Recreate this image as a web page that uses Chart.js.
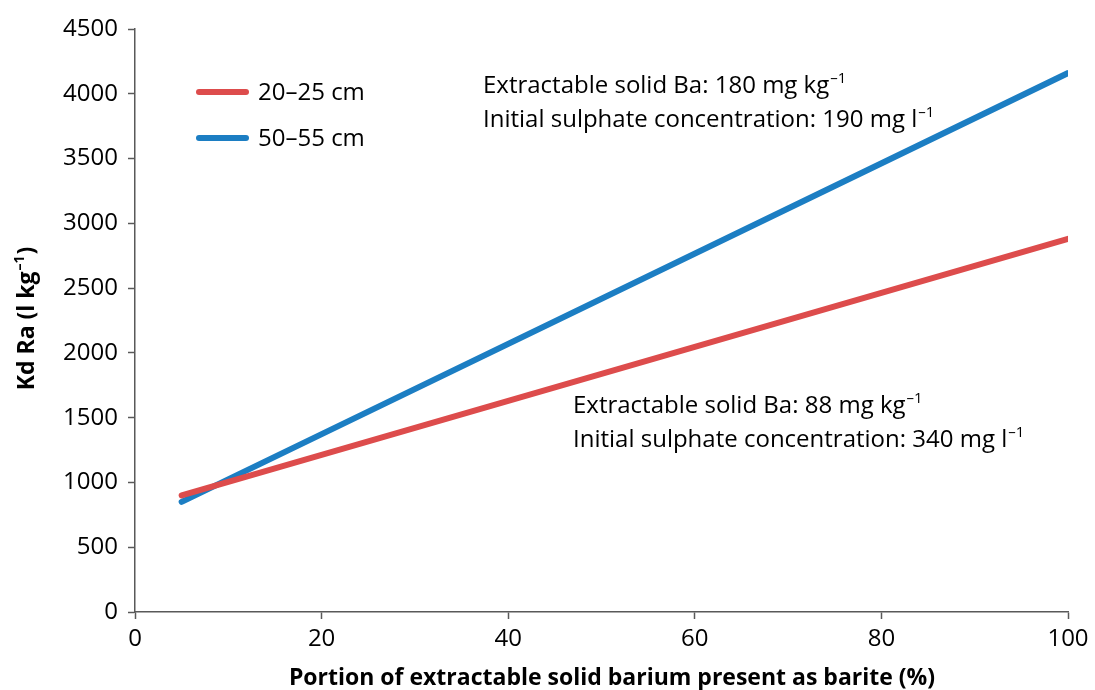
<!DOCTYPE html>
<html>
<head>
<meta charset="utf-8">
<script src="https://cdn.jsdelivr.net/npm/chart.js@4/dist/chart.umd.min.js"></script>
<style>
  html, body { margin: 0; padding: 0; background: #fff; }
  #wrap { width: 1095px; height: 690px; }
</style>
</head>
<body>
<div id="wrap"><canvas id="c" width="1095" height="690"></canvas></div>
<script>
// Portion of extractable solid Ba present as barite (%)
const portion = [5, 100];
// Kd Ra (l kg-1) for each soil depth
const kd2025 = [900, 2880];
const kd5055 = [850, 4160];
const seriesNames = ['20–25 cm', '50–55 cm'];
const seriesColors = ['#DD4C4C', '#1C7EC3'];
const xTicks = [0, 20, 40, 60, 80, 100];
const yTicks = [0, 500, 1000, 1500, 2000, 2500, 3000, 3500, 4000, 4500];

const FONT = '"Open Sans", Lato, sans-serif';
const AXIS = '#595959';
const TXT = 24;

// Text with a trailing superscript part, e.g. "mg kg" + "–1"
function drawSup(ctx, x, y, base, sup, size, bold) {
  const w = bold ? 'bold ' : '';
  ctx.font = w + size + 'px ' + FONT;
  ctx.fillText(base, x, y);
  const bw = ctx.measureText(base).width;
  ctx.font = w + Math.round(size * 0.62) + 'px ' + FONT;
  ctx.fillText(sup, x + bw + 1, y - size * 0.42);
  const sw = ctx.measureText(sup).width;
  return bw + 1 + sw;
}

const decorations = {
  id: 'decorations',
  afterDraw(chart) {
    const ctx = chart.ctx;
    const area = chart.chartArea;
    ctx.save();
    ctx.fillStyle = '#000';
    ctx.textBaseline = 'alphabetic';
    ctx.textAlign = 'left';

    // Legend inside plot, top-left
    const legY = [92, 138];
    seriesNames.forEach((name, i) => {
      ctx.strokeStyle = seriesColors[i];
      ctx.lineWidth = 6;
      ctx.lineCap = 'round';
      ctx.beginPath();
      ctx.moveTo(199, legY[i]);
      ctx.lineTo(246, legY[i]);
      ctx.stroke();
      ctx.font = TXT + 'px ' + FONT;
      ctx.fillText(name, 258, legY[i] + 8);
    });

    // Condition notes
    drawSup(ctx, 483, 93, 'Extractable solid Ba: 180 mg kg', '–1', TXT, false);
    drawSup(ctx, 483, 127, 'Initial sulphate concentration: 190 mg l', '–1', TXT, false);
    drawSup(ctx, 573, 413, 'Extractable solid Ba: 88 mg kg', '–1', TXT, false);
    drawSup(ctx, 573, 447, 'Initial sulphate concentration: 340 mg l', '–1', TXT, false);

    // X axis title
    ctx.font = 'bold 23px ' + FONT;
    ctx.textAlign = 'center';
    ctx.fillText('Portion of extractable solid barium present as barite (%)', 612, 685);

    // Y axis title (rotated)
    ctx.translate(34, 318);
    ctx.rotate(-Math.PI / 2);
    ctx.textAlign = 'left';
    ctx.font = 'bold 23px ' + FONT;
    const full = ctx.measureText('Kd Ra (l kg').width + 18 + ctx.measureText(')').width;
    let x0 = -full / 2;
    const wpart = drawSup(ctx, x0, 0, 'Kd Ra (l kg', '–1', 23, true);
    ctx.font = 'bold 23px ' + FONT;
    ctx.fillText(')', x0 + wpart + 1, 0);
    ctx.restore();
  }
};

new Chart(document.getElementById('c'), {
  type: 'scatter',
  data: {
    datasets: [
      {
        label: seriesNames[0],
        data: portion.map((p, i) => ({ x: p, y: kd2025[i] })),
        borderColor: seriesColors[0],
        backgroundColor: seriesColors[0],
        showLine: true, borderWidth: 6, pointRadius: 0, borderCapStyle: 'round'
      },
      {
        label: seriesNames[1],
        data: portion.map((p, i) => ({ x: p, y: kd5055[i] })),
        borderColor: seriesColors[1],
        backgroundColor: seriesColors[1],
        showLine: true, borderWidth: 6, pointRadius: 0, borderCapStyle: 'round'
      }
    ]
  },
  options: {
    responsive: false,
    animation: false,
    layout: { padding: { left: 0, right: 27, top: 29, bottom: 0 } },
    plugins: { legend: { display: false }, tooltip: { enabled: false } },
    scales: {
      x: {
        type: 'linear', min: 0, max: 100,
        afterBuildTicks: s => { s.ticks = xTicks.map(v => ({ value: v })); },
        grid: { display: true, drawOnChartArea: false, drawTicks: true, tickLength: 7, tickColor: AXIS, tickWidth: 1.5 },
        border: { color: AXIS, width: 1.5 },
        ticks: { color: '#000', font: { family: FONT, size: TXT }, padding: 6, maxRotation: 0, callback: v => String(v) },
        afterFit: s => { s.height = 78; }
      },
      y: {
        min: 0, max: 4500,
        afterBuildTicks: s => { s.ticks = yTicks.map(v => ({ value: v })); },
        grid: { display: true, drawOnChartArea: false, drawTicks: true, tickLength: 7, tickColor: AXIS, tickWidth: 1.5 },
        border: { color: AXIS, width: 1.5 },
        ticks: { color: '#000', font: { family: FONT, size: TXT }, padding: 10, callback: v => String(v) },
        afterFit: s => { s.width = 135; }
      }
    }
  },
  plugins: [decorations]
});
</script>
</body>
</html>
